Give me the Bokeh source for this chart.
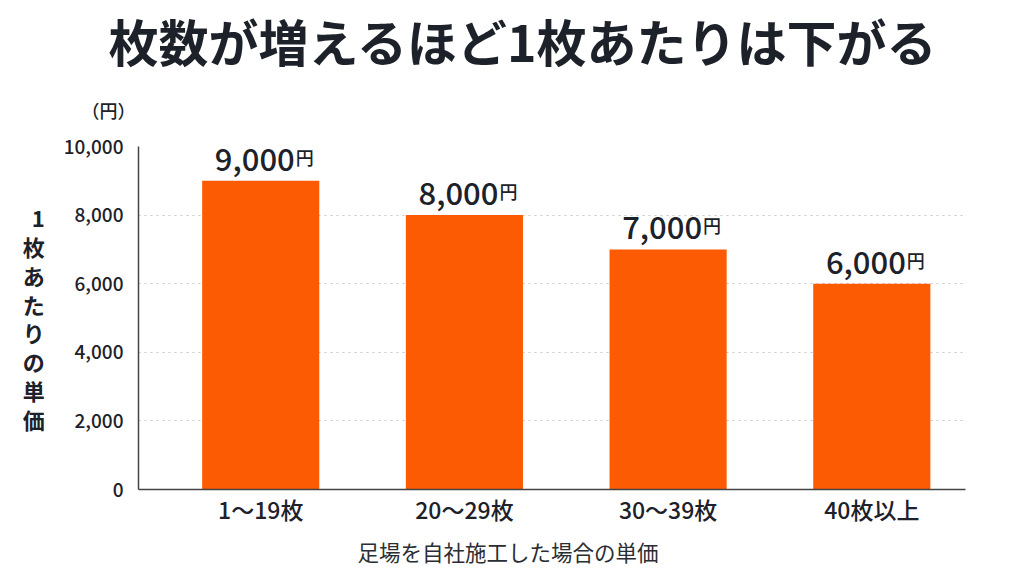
from bokeh.plotting import figure
from bokeh.models import Title, Range1d, FixedTicker
from bokeh.core.properties import value
from bokeh.embed import file_html
from bokeh.resources import INLINE

categories = ["1～19枚", "20～29枚", "30～39枚", "40枚以上"]
prices = [9000, 8000, 7000, 6000]
y_ticks = [0, 2000, 4000, 6000, 8000, 10000]

title_text = "枚数が増えるほど1枚あたりは下がる"
y_label = "1枚あたりの単価"
x_label = "足場を自社施工した場合の単価"
unit = "円"

FONT = "Noto Sans CJK JP"
FONT_MED = "Noto Sans CJK JP Medium"
DARK = "#1d2129"
BAR = "#fc5a03"

xs = list(range(len(categories)))
labels = [f"{v:,}" for v in prices]

p = figure(width=1016, height=568, frame_width=827, frame_height=343,
           min_border_left=138, min_border_right=51, min_border_top=146, min_border_bottom=79,
           x_range=Range1d(-0.6, 3.46), y_range=Range1d(0, 10000),
           output_backend="svg", toolbar_location=None, title=None)
p.outline_line_color = None
p.background_fill_color = "white"
p.border_fill_color = "white"

p.vbar(x=xs, top=prices, width=0.575, fill_color=BAR, line_color=None)

p.text(x=xs, y=prices, text=labels, text_align="right", text_baseline="bottom",
       x_offset=34, y_offset=-10, text_font=value(FONT_MED), text_font_size="31px",
       text_color=DARK)
p.text(x=xs, y=prices, text=[unit] * len(prices), text_align="left", text_baseline="bottom",
       x_offset=35, y_offset=-11, text_font=value(FONT_MED), text_font_size="18px",
       text_color=DARK)

# axes
p.xaxis.ticker = FixedTicker(ticks=xs)
p.xaxis.major_label_overrides = {i: c for i, c in enumerate(categories)}
p.xaxis.major_label_text_font = FONT_MED
p.xaxis.major_label_text_font_size = "23px"
p.xaxis.major_label_text_color = DARK
p.xaxis.major_label_standoff = 2
p.xaxis.major_tick_out = 0
p.xaxis.major_tick_line_color = None
p.xaxis.minor_tick_line_color = None
p.xaxis.axis_line_color = "#444444"
p.xaxis.axis_line_width = 1.5

p.yaxis.ticker = FixedTicker(ticks=y_ticks)
p.yaxis.major_label_overrides = {t: f"{t:,}" for t in y_ticks}
p.yaxis.major_label_text_font = FONT_MED
p.yaxis.major_label_text_font_size = "19px"
p.yaxis.major_label_text_color = DARK
p.yaxis.major_label_standoff = 15
p.yaxis.major_tick_out = 0
p.yaxis.major_tick_line_color = None
p.yaxis.minor_tick_line_color = None
p.yaxis.axis_line_color = "#444444"
p.yaxis.axis_line_width = 1.5
p.yaxis.axis_label = "\n".join(y_label)
p.yaxis.axis_label_orientation = "horizontal"
p.yaxis.axis_label_text_font = FONT
p.yaxis.axis_label_text_font_size = "22px"
p.yaxis.axis_label_text_font_style = "bold"
p.yaxis.axis_label_text_color = DARK
p.yaxis.axis_label_text_line_height = 0.9
p.yaxis.axis_label_standoff = 16

p.xgrid.grid_line_color = None
p.ygrid.grid_line_color = "#c8c8c8"
p.ygrid.grid_line_dash = "2 4"

# first title added "above" sits next to the frame
p.add_layout(Title(text="（円）", align="left", offset=-57, standoff=48,
                   text_font=FONT_MED, text_font_size="18px", text_font_style="normal",
                   text_color=DARK), "above")
p.add_layout(Title(text=title_text, align="left", offset=-30, standoff=-10,
                   text_font=FONT, text_font_size="50px", text_font_style="bold",
                   text_color=DARK), "above")
p.add_layout(Title(text=x_label, align="left", offset=219, standoff=10,
                   text_font=FONT, text_font_size="21.5px", text_font_style="normal",
                   text_color="#2a2d33"), "below")

open("out.html", "w").write(file_html(p, INLINE))
